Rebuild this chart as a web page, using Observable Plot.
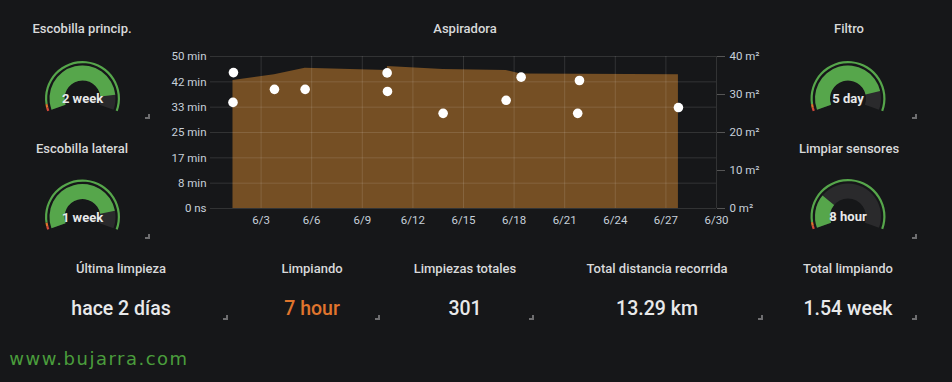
<!DOCTYPE html>
<html>
<head>
<meta charset="utf-8">
<script src="https://cdn.jsdelivr.net/npm/d3@7"></script>
<script src="https://cdn.jsdelivr.net/npm/@observablehq/plot@0.6"></script>
<style>
  html, body { margin: 0; padding: 0; background: #161719; }
  #root { position: relative; width: 952px; height: 382px; background: #161719; overflow: hidden; font-family: Roboto, "Noto Sans", sans-serif; }
  .lbl { position: absolute; white-space: nowrap; line-height: 1; transform: translate(-50%, -50%); }
  .corner { position: absolute; width: 3px; height: 3px; border-right: 2px solid #6e6e70; border-bottom: 2px solid #6e6e70; }
</style>
</head>
<body>
<div id="root"></div>
<script>
// ---------- data ----------
const cleanTimes = ["2019-06-01T08:40Z","2019-06-01T08:00Z","2019-06-03T19:00Z","2019-06-05T14:40Z","2019-06-10T11:20Z","2019-06-10T11:50Z","2019-06-13T19:00Z","2019-06-17T12:40Z","2019-06-18T10:00Z","2019-06-21T21:00Z","2019-06-21T18:30Z","2019-06-27T17:50Z"];
const cleanMinutes = [44.7, 34.9, 39.2, 39.2, 44.6, 38.5, 31.3, 35.6, 43.2, 42.1, 31.3, 33.2];

const areaTimes = ["2019-06-01T08:00Z","2019-06-03T19:00Z","2019-06-05T14:40Z","2019-06-10T11:20Z","2019-06-10T11:50Z","2019-06-13T19:00Z","2019-06-17T12:40Z","2019-06-18T10:00Z","2019-06-21T18:30Z","2019-06-21T21:00Z","2019-06-27T17:50Z"];
const areaM2 = [33.7, 35.2, 36.9, 36.3, 37.4, 36.6, 36.3, 35.4, 35.3, 35.3, 35.2];

const xTickDates = ["2019-06-03","2019-06-06","2019-06-09","2019-06-12","2019-06-15","2019-06-18","2019-06-21","2019-06-24","2019-06-27","2019-06-30"];
const xDomain = ["2019-05-31T00:00Z","2019-06-30T00:00Z"];

const leftTickSeconds = [0, 500, 1000, 1500, 2000, 2500, 3000];
const leftTickLabels = ["0 ns","8 min","17 min","25 min","33 min","42 min","50 min"];
const rightTickM2 = [0, 10, 20, 30, 40];
const rightTickLabels = ["0 m²","10 m²","20 m²","30 m²","40 m²"];

const gaugeTitles = ["Escobilla princip.","Escobilla lateral","Filtro","Limpiar sensores"];
const gaugeTexts = ["2 week","1 week","5 day","8 hour"];
const gaugeFractions = [0.88, 0.86, 0.85, 0.27];

const statTitles = ["Última limpieza","Limpiando","Limpiezas totales","Total distancia recorrida","Total limpiando"];
const statValues = ["hace 2 días","7 hour","301","13.29 km","1.54 week"];
const statColors = ["#e8e9ea","#e0752d","#e8e9ea","#e8e9ea","#e8e9ea"];

// ---------- layout helpers ----------
const root = document.getElementById("root");
function label(text, cx, cy, size, weight, color, extra) {
  const d = document.createElement("div");
  d.className = "lbl";
  d.textContent = text;
  Object.assign(d.style, { left: cx + "px", top: cy + "px", fontSize: size + "px", fontWeight: weight, color: color }, extra || {});
  root.appendChild(d);
  return d;
}
function corner(x, y) {
  const d = document.createElement("div");
  d.className = "corner";
  d.style.left = (x - 3) + "px";
  d.style.top = (y - 3) + "px";
  root.appendChild(d);
}

// ---------- main chart ----------
const parse = s => new Date(s);
const dots = cleanTimes.map((t, i) => ({ t: parse(t), sec: cleanMinutes[i] * 60 }));
const areaRows = areaTimes.map((t, i) => ({ t: parse(t), m2: areaM2[i] }));
const xTicks = xTickDates.map(s => new Date(s + "T00:00Z"));
const m2ToSec = 3000 / 40;
const fmtX = d3.utcFormat("%-m/%-d");

const chart = Plot.plot({
  width: 610,
  height: 192,
  marginLeft: 50,
  marginRight: 54,
  marginTop: 16,
  marginBottom: 24,
  style: { background: "transparent", color: "#c7d0d9", fontFamily: "Roboto, sans-serif", fontSize: "11.5px" },
  x: { type: "utc", domain: xDomain.map(parse) },
  y: { domain: [0, 3000] },
  marks: [
    Plot.areaY(areaRows, { x: "t", y: d => d.m2 * m2ToSec, fill: "#754f24", curve: "linear" }),
    Plot.gridX(xTicks, { stroke: "#ffffff", strokeOpacity: 0.12 }),
    Plot.gridY(leftTickSeconds, { stroke: "#ffffff", strokeOpacity: 0.12 }),
    Plot.axisY(leftTickSeconds, { anchor: "left", tickSize: 0, tickPadding: 4, tickFormat: d => leftTickLabels[leftTickSeconds.indexOf(d)], label: null }),
    Plot.axisY(rightTickM2.map(v => v * m2ToSec), { anchor: "right", tickSize: 8, tickPadding: 5, stroke: "#555", strokeOpacity: 1, tickFormat: d => rightTickLabels[rightTickM2.indexOf(d / m2ToSec)], label: null }),
    Plot.axisX(xTicks, { anchor: "bottom", tickSize: 0, tickPadding: 7, tickFormat: fmtX, label: null }),
    Plot.dot(dots, { x: "t", y: "sec", r: 4.8, fill: "#ffffff", stroke: "none" })
  ]
});
chart.style.position = "absolute";
chart.style.left = "160px";
chart.style.top = "40px";
root.appendChild(chart);
label("Aspiradora", 465, 28, 13, 500, "#d8d9da");

// ---------- gauges ----------
const gaugeCenters = [[82.5, 98.5], [82.5, 217], [848, 98.5], [848, 216.5]];
const titleCenters = [[82, 28], [82, 148], [849, 28], [849, 148]];
const deg = Math.PI / 180;
const angle = d3.scaleLinear().domain([0, 1]).range([-110 * deg, 110 * deg]);
const thresholdStops = [0, 0.025, 0.05, 1];
const thresholdColors = ["#d44a3a", "#e0752d", "#56a64b"];

const gsvg = d3.create("svg")
  .attr("width", 952).attr("height", 382)
  .style("position", "absolute").style("left", "0px").style("top", "0px");
const band = d3.arc().innerRadius(18).outerRadius(33);
const ring = d3.arc().innerRadius(35.3).outerRadius(37.5);
gaugeFractions.forEach((f, i) => {
  const [cx, cy] = gaugeCenters[i];
  const g = gsvg.append("g").attr("transform", `translate(${cx},${cy})`);
  g.append("path").attr("d", band({ startAngle: angle(0), endAngle: angle(1) })).attr("fill", "#2a2a2c");
  g.append("path").attr("d", band({ startAngle: angle(0), endAngle: angle(f) })).attr("fill", "#56a64b");
  thresholdColors.forEach((c, k) => {
    g.append("path").attr("d", ring({ startAngle: angle(thresholdStops[k]), endAngle: angle(thresholdStops[k + 1]) })).attr("fill", c);
  });
  g.append("text").attr("x", 0).attr("y", 4.5).attr("text-anchor", "middle")
    .attr("fill", "#e8e9ea").attr("font-family", "Roboto, sans-serif").attr("font-weight", 700).attr("font-size", 13)
    .text(gaugeTexts[i]);
});
root.appendChild(gsvg.node());
gaugeTitles.forEach((t, i) => label(t, titleCenters[i][0], titleCenters[i][1], 13, 500, "#d8d9da"));

// ---------- stats ----------
const statX = [121, 312, 465, 657, 848];
statTitles.forEach((t, i) => label(t, statX[i], 267.5, 13, 500, "#d8d9da"));
statValues.forEach((v, i) => label(v, statX[i], 309, 19.5, 500, statColors[i]));

// ---------- resize corners ----------
[[148, 117], [148, 237], [226, 318], [378, 318], [532, 318], [761, 318], [915, 318], [915, 117], [915, 237]].forEach(p => corner(p[0], p[1]));

// ---------- watermark ----------
label("www.bujarra.com", 99, 359, 18, 400, "#4a9d3c", { fontFamily: "'DejaVu Sans', sans-serif", letterSpacing: "1.5px" });
</script>
</body>
</html>
